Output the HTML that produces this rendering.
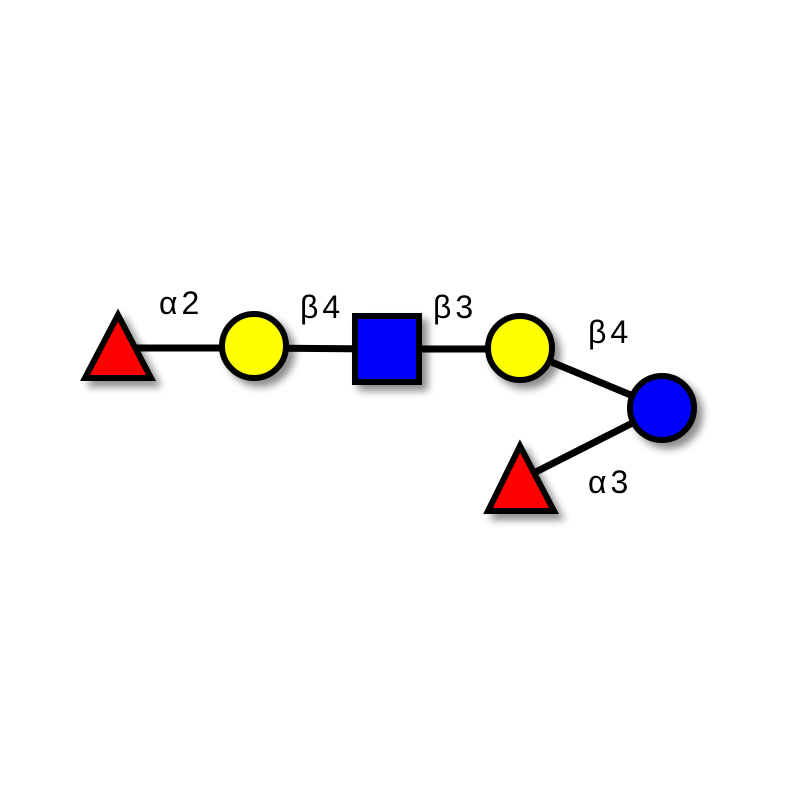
<!DOCTYPE html>
<html><head><meta charset="utf-8"><style>html,body{margin:0;padding:0;background:#fff}</style></head>
<body>
<svg width="800" height="800" viewBox="0 0 800 800" xmlns="http://www.w3.org/2000/svg">
<defs>
<filter id="sh" x="-50%" y="-50%" width="200%" height="200%">
<feGaussianBlur in="SourceAlpha" stdDeviation="4"/>
<feOffset dx="6" dy="6" result="b"/>
<feComponentTransfer><feFuncA type="linear" slope="0.45"/></feComponentTransfer>
<feMerge><feMergeNode/><feMergeNode in="SourceGraphic"/></feMerge>
</filter>
</defs>
<rect width="800" height="800" fill="#fff"/>
<g stroke="#000" stroke-width="7" fill="none">
<line x1="120" y1="348" x2="254" y2="348"/>
<line x1="254" y1="348" x2="387" y2="349"/>
<line x1="387" y1="349" x2="520" y2="349"/>
<line x1="520" y1="349" x2="662" y2="408"/>
<line x1="662" y1="408" x2="520" y2="480"/>
</g>
<g stroke="#000" stroke-width="6" filter="url(#sh)">
<polygon points="118,315 151,378 85,378" fill="#ff0000"/>
<circle cx="254" cy="346" r="32" fill="#ffff00"/>
<rect x="355" y="316" width="64" height="66" fill="#0000ff"/>
<circle cx="520" cy="348" r="32" fill="#ffff00"/>
<circle cx="662" cy="408" r="32" fill="#0000ff"/>
<polygon points="520,446 554,511 488,511" fill="#ff0000"/>
</g>
<g font-family="'Liberation Sans','DejaVu Sans',sans-serif" font-size="32" letter-spacing="4" fill="#000">
<text x="159" y="314">α2</text>
<text x="300" y="318">β4</text>
<text x="433" y="318">β3</text>
<text x="588" y="343">β4</text>
<text x="588" y="493">α3</text>
</g>
</svg>
</body></html>
